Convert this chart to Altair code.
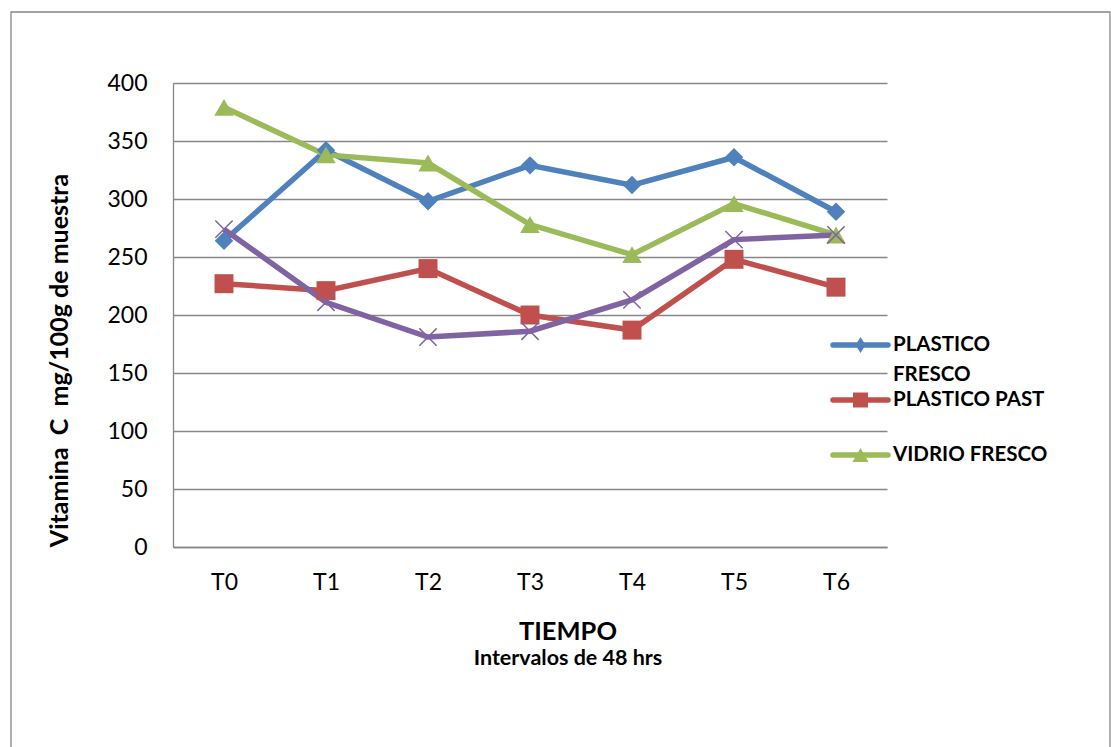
import altair as alt
import pandas as pd

# Sampling times (48 h apart) and vitamin C content per package / treatment
tiempos = ["T0", "T1", "T2", "T3", "T4", "T5", "T6"]
series = ["PLASTICO FRESCO", "PLASTICO PAST", "VIDRIO FRESCO", "VIDRIO PAST"]
plastico_fresco = [264, 342, 298, 329, 312, 336, 289]
plastico_past = [227, 221, 240, 200, 187, 248, 224]
vidrio_fresco = [379, 338, 331, 278, 252, 296, 269]
vidrio_past = [274, 211, 181, 186, 213, 265, 269]
y_ticks = [0, 50, 100, 150, 200, 250, 300, 350, 400]

# legend entries (the last series has no key) and their wrapped labels
leyenda = ["PLASTICO FRESCO", "PLASTICO PAST", "VIDRIO FRESCO"]
etiquetas = [["PLASTICO", "FRESCO"], ["PLASTICO PAST"], ["VIDRIO FRESCO"]]

colores = ["#4F81BD", "#C0504D", "#9BBB59", "#8064A2"]
cruz = "M-1,-1L1,1M-1,1L1,-1"
marcadores = [("diamond", 340, True), ("square", 360, True),
              ("triangle-up", 380, True), (cruz, 300, False)]
marcadores_leyenda = [("M0,-1L0.62,0L0,1L-0.62,0Z", 256), ("square", 225), ("triangle-up", 256)]

valores = [plastico_fresco, plastico_past, vidrio_fresco, vidrio_past]
df = pd.DataFrame(
    [{"tiempo": t, "serie": s, "valor": v}
     for s, vals in zip(series, valores) for t, v in zip(tiempos, vals)]
)

FONT = "Lato"
W, H = 714, 464
LINE_W = 5.5

x_enc = alt.X("tiempo:N", sort=tiempos,
              scale=alt.Scale(type="point", domain=tiempos, padding=0.5),
              axis=alt.Axis(title=None, labelAngle=0, labelFontSize=23, labelPadding=24,
                            labelBaseline="top", domainColor="#868686", domainWidth=1.3,
                            ticks=False, grid=False))
y_enc = alt.Y("valor:Q",
              scale=alt.Scale(domain=[0, 400], nice=False, zero=True),
              axis=alt.Axis(values=y_ticks, title="Vitamina\u00a0 C\u00a0 mg/100g de muestra",
                            titleFont=FONT, titleFontSize=25, titleFontWeight="bold",
                            titleColor="black", titleAngle=270, titleAlign="center",
                            titleBaseline="middle", titleX=-114, titleY=277,
                            labelFontSize=23, labelPadding=26, ticks=False,
                            domainColor="#868686", domainWidth=1.3,
                            grid=True, gridColor="#878787", gridWidth=1.3))
color_enc = alt.Color("serie:N", scale=alt.Scale(domain=series, range=colores), legend=None)

# outer chart border
frame = alt.Chart(pd.DataFrame({"k": [0]})).mark_rect(
    fill="transparent", stroke="#868686", strokeWidth=1.3
).encode(x=alt.value(-162), x2=alt.value(937), y=alt.value(-71), y2=alt.value(680))

lines = alt.Chart(df).mark_line(strokeWidth=LINE_W).encode(
    x=x_enc, y=y_enc, color=color_enc, order=alt.Order("tiempo:N"))

marker_layers = []
for name, (shape, size, filled) in zip(series, marcadores):
    marker_layers.append(
        alt.Chart(df[df["serie"] == name]).mark_point(
            shape=shape, size=size, filled=filled, opacity=1,
            strokeWidth=1.5 if not filled else 0.5
        ).encode(x=x_enc, y=y_enc, color=color_enc)
    )

# legend: key line + marker + label, stacked inside the right edge of the plot
LEG_X0, LEG_X1, LEG_TXT = 660, 715, 720
LEG_Y0, LEG_STEP, LEG_LINE = 262, 55, 30
legend_layers = []
for i, (name, lineas, (lshape, lsize)) in enumerate(zip(leyenda, etiquetas, marcadores_leyenda)):
    d = pd.DataFrame({"serie": [name]})
    yv = LEG_Y0 + i * LEG_STEP
    legend_layers.append(
        alt.Chart(d).mark_rule(strokeWidth=LINE_W, strokeCap="round").encode(
            x=alt.value(LEG_X0), x2=alt.value(LEG_X1), y=alt.value(yv), color=color_enc))
    legend_layers.append(
        alt.Chart(d).mark_point(shape=lshape, size=lsize, filled=True, opacity=1).encode(
            x=alt.value((LEG_X0 + LEG_X1) / 2), y=alt.value(yv), color=color_enc))
    for j, linea in enumerate(lineas):
        legend_layers.append(
            alt.Chart(pd.DataFrame({"texto": [linea]})).mark_text(
                align="left", baseline="middle", font=FONT, fontSize=20.5,
                fontWeight="bold", color="black"
            ).encode(x=alt.value(LEG_TXT), y=alt.value(yv + j * LEG_LINE), text="texto:N"))

chart = alt.layer(frame, lines, *marker_layers, *legend_layers).properties(
    width=W, height=H,
    autosize=alt.AutoSizeParams(type="none"),
    padding={"left": 173, "top": 83, "right": 224, "bottom": 200},
    title=alt.TitleParams(text="TIEMPO", subtitle="Intervalos de 48 hrs", orient="bottom",
                          anchor="middle", frame="group", dx=38, offset=-144,
                          font=FONT, fontSize=25.5, fontWeight="bold", color="black",
                          subtitleFont=FONT, subtitleFontSize=21.5, subtitleFontWeight="bold",
                          subtitleColor="black", subtitlePadding=3),
).configure(
    font=FONT,
).configure_axis(
    labelFont=FONT, labelColor="black",
).configure_view(stroke=None)

chart.save("out.html", embed_options={"renderer": "svg", "actions": False})
